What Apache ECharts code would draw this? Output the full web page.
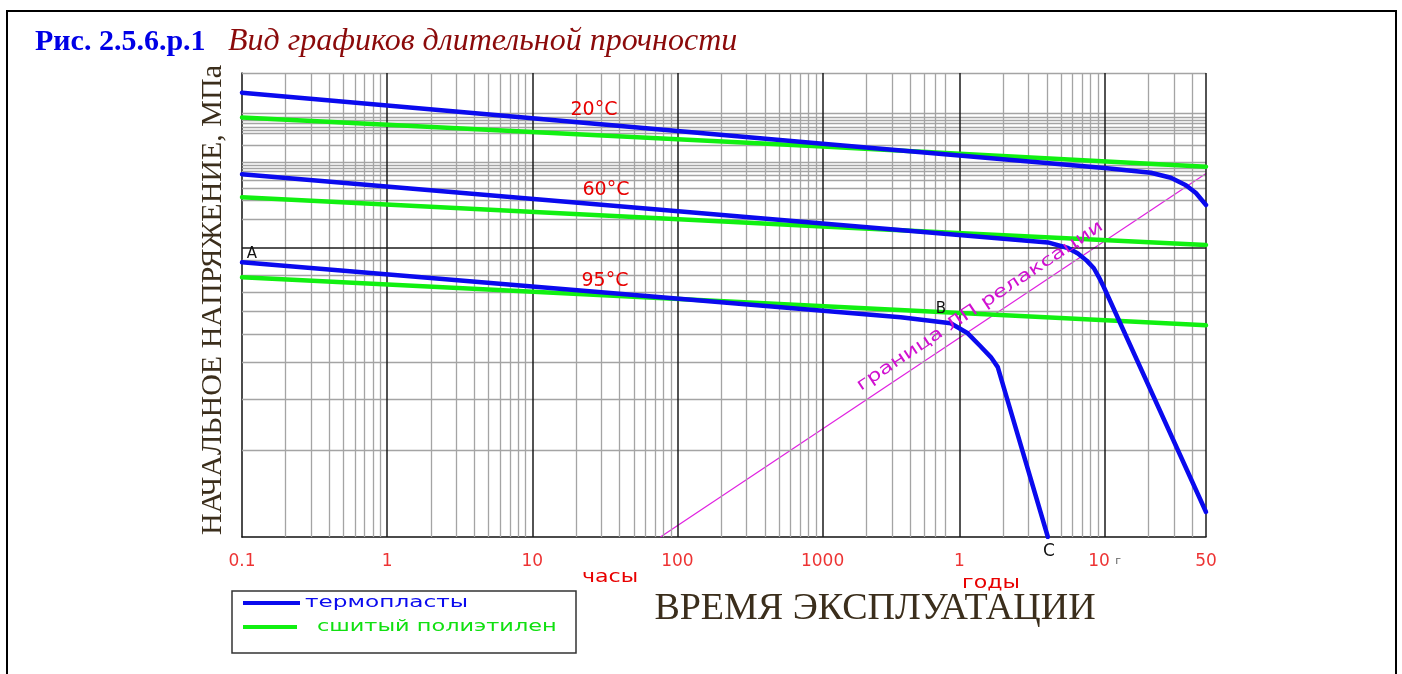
<!DOCTYPE html>
<html>
<head>
<meta charset="utf-8">
<title>Вид графиков длительной прочности</title>
<script src="https://cdn.jsdelivr.net/npm/echarts@6/dist/echarts.min.js"></script>
<style>
  html, body, #main { margin: 0; width: 100%; height: 100%; background: #fff; }
</style>
</head>
<body>
<div id="main"></div>
<script>
// time in hours, stress in MPa
var HOURS_PER_YEAR = 8760;

var blue20  = [[0.1, 34.2], [1000, 22.8], [87600, 18.8], [182800, 18.1], [251000, 17.4], [318600, 16.4], [373500, 15.4], [438000, 14.0]];
var green20 = [[0.1, 28.1], [1000, 22.3], [438000, 19.0]];
var blue60  = [[0.1, 17.9], [1000, 12.1], [35650, 10.4], [49000, 9.95], [57400, 9.53], [66000, 9.0], [73950, 8.47], [80000, 7.9], [86700, 7.28], [438000, 1.22]];
var green60 = [[0.1, 14.9], [1000, 11.8], [438000, 10.2]];
var blue95  = [[0.1, 8.88], [3452, 5.74], [7636, 5.47], [10000, 5.05], [12000, 4.6], [14420, 4.18], [16100, 3.86], [35650, 1.0]];
var green95 = [[0.1, 7.88], [438000, 5.38]];
var relaxLine = [[76.3, 1], [438000, 18.0]];

// x tick labels: hours, then years
var tickValues = [0.1, 1, 10, 100, 1000, 1 * HOURS_PER_YEAR, 10 * HOURS_PER_YEAR, 50 * HOURS_PER_YEAR];
var tickTexts  = ['0.1', '1', '10', '100', '1000', '1', '10 {g|г}', '50'];

// grid lines
var minorFactors = [2, 3, 4, 5, 6, 7, 8, 9];
var xMajor = [1, 10, 100, 1000, HOURS_PER_YEAR, 10 * HOURS_PER_YEAR, 50 * HOURS_PER_YEAR];
var xMinor = [];
[0.1, 1, 10, 100].forEach(function (d) {
  minorFactors.forEach(function (k) { xMinor.push(k * d); });
});
[2000, 3000, 4000, 5000, 6000, 7000].forEach(function (v) { xMinor.push(v); });
minorFactors.forEach(function (k) { xMinor.push(k * HOURS_PER_YEAR); });
[20, 30, 40].forEach(function (k) { xMinor.push(k * HOURS_PER_YEAR); });

var yMajor = [10];
var yMinor = [2, 3, 4, 5, 6, 7, 8, 9, 12.5, 14.5, 16, 17, 17.7, 18.3, 18.8, 19.2, 19.6,
              22.5, 24.7, 25.3, 26, 26.8, 27.4, 28.1, 29, 40];

var chart = echarts.init(document.getElementById('main'));

function gridSeries(values, axis, color, width) {
  return {
    type: 'line',
    data: [],
    silent: true,
    z: 1,
    markLine: {
      silent: true,
      symbol: 'none',
      animation: false,
      label: { show: false },
      emphasis: { disabled: true },
      lineStyle: { color: color, width: width, type: 'solid' },
      data: values.map(function (v) {
        var o = {};
        o[axis] = v;
        return o;
      })
    }
  };
}

function curve(name, data, color) {
  return {
    name: name,
    type: 'line',
    data: data,
    showSymbol: false,
    z: 5,
    lineStyle: { color: color, width: 4.5, join: 'round', cap: 'round' },
    itemStyle: { color: color }
  };
}

var red = '#e80000';
var cad = '"DejaVu Sans"';

function txt(text, x, y, size, color, extra) {
  var el = {
    type: 'text', x: x, y: y, silent: true, z: 10,
    style: {
      text: text, font: size + 'px ' + cad, fill: color,
      align: 'center', verticalAlign: 'middle',
      textAlign: 'center', textVerticalAlign: 'middle'
    }
  };
  if (extra) Object.keys(extra).forEach(function (k) { el[k] = extra[k]; });
  return el;
}

chart.setOption({
  animation: false,
  backgroundColor: '#fff',
  grid: { left: 242, top: 73, right: 196, bottom: 137 },
  xAxis: {
    type: 'log', logBase: 10, min: 0.1, max: 438000,
    axisLine: { show: true, lineStyle: { color: '#111', width: 1.5 } },
    axisTick: { show: false }, axisLabel: { show: false }, splitLine: { show: false }
  },
  yAxis: {
    type: 'log', logBase: 10, min: 1, max: 40,
    axisLine: { show: true, lineStyle: { color: '#111', width: 1.5 } },
    axisTick: { show: false }, axisLabel: { show: false }, splitLine: { show: false }
  },
  series: [
    gridSeries(xMinor, 'xAxis', '#a4a4a4', 1.3),
    gridSeries(yMinor, 'yAxis', '#a4a4a4', 1.3),
    gridSeries(xMajor, 'xAxis', '#1a1a1a', 1.5),
    gridSeries(yMajor, 'yAxis', '#1a1a1a', 1.5),
    {
      type: 'line',
      data: relaxLine,
      showSymbol: false,
      z: 4,
      lineStyle: { color: '#e020e0', width: 1.2 }
    },
    curve('сшитый полиэтилен', green20, '#11f011'),
    curve('сшитый полиэтилен', green60, '#11f011'),
    curve('сшитый полиэтилен', green95, '#11f011'),
    curve('термопласты', blue20, '#0a0aee'),
    curve('термопласты', blue60, '#0a0aee'),
    curve('термопласты', blue95, '#0a0aee'),
    {
      type: 'scatter',
      data: tickValues.map(function (v) { return [v, 1]; }),
      symbolSize: 0,
      silent: true,
      clip: false,
      label: {
        show: true,
        position: 'bottom',
        distance: 16,
        color: red,
        fontSize: 17,
        fontFamily: 'DejaVu Sans',
        formatter: function (p) { return tickTexts[p.dataIndex]; },
        rich: { g: { fontSize: 11, color: '#333', fontFamily: 'DejaVu Sans' } }
      }
    }
  ],
  graphic: [
    { type: 'rect', silent: true, shape: { x: 7, y: 11, width: 1389, height: 700 },
      style: { fill: 'none', stroke: '#000', lineWidth: 2 } },
    { type: 'text', x: 35, y: 42, silent: true,
      style: { text: 'Рис. 2.5.6.р.1', font: 'bold 30px "Liberation Serif"', fill: '#0000e6',
               verticalAlign: 'middle', textVerticalAlign: 'middle' } },
    { type: 'text', x: 228, y: 42, silent: true,
      style: { text: 'Вид графиков длительной прочности', font: 'italic 32px "Liberation Serif"', fill: '#8b0a0a',
               verticalAlign: 'middle', textVerticalAlign: 'middle' } },
    { type: 'text', x: 213, y: 300, rotation: Math.PI / 2, silent: true,
      style: { text: 'НАЧАЛЬНОЕ НАПРЯЖЕНИЕ, МПа', font: '30px "Liberation Serif"', fill: '#3b2e1c',
               align: 'center', verticalAlign: 'middle', textAlign: 'center', textVerticalAlign: 'middle' } },
    { type: 'text', x: 875, y: 609, silent: true,
      style: { text: 'ВРЕМЯ ЭКСПЛУАТАЦИИ', font: '38px "Liberation Serif"', fill: '#3b2e1c',
               align: 'center', verticalAlign: 'middle', textAlign: 'center', textVerticalAlign: 'middle' } },
    txt('20°C', 594, 110, 19, red),
    txt('60°C', 606, 190, 19, red),
    txt('95°C', 605, 281, 19, red),
    txt('A', 252, 254, 15, '#111'),
    txt('B', 941, 309, 15, '#111'),
    txt('C', 1049, 552, 17, '#111'),
    txt('часы', 610, 578, 17, red, { scaleX: 1.3 }),
    txt('годы', 991, 584, 17, red, { scaleX: 1.3 }),
    txt('граница ЛП релаксации', 980, 306, 17, '#d010d0', { rotation: 33.7 * Math.PI / 180, scaleX: 1.35 }),
    // legend
    { type: 'rect', silent: true, shape: { x: 232, y: 591, width: 344, height: 62 },
      style: { fill: 'none', stroke: '#333', lineWidth: 1.5 } },
    { type: 'line', silent: true, shape: { x1: 243, y1: 603, x2: 300, y2: 603 },
      style: { stroke: '#0a0aee', lineWidth: 4 } },
    { type: 'line', silent: true, shape: { x1: 243, y1: 627, x2: 297, y2: 627 },
      style: { stroke: '#11f011', lineWidth: 4 } },
    { type: 'text', x: 305, y: 603, silent: true, scaleX: 1.45,
      style: { text: 'термопласты', font: '16px ' + cad, fill: '#0a0aee',
               verticalAlign: 'middle', textVerticalAlign: 'middle' } },
    { type: 'text', x: 317, y: 627, silent: true, scaleX: 1.4,
      style: { text: 'сшитый полиэтилен', font: '16px ' + cad, fill: '#11e011',
               verticalAlign: 'middle', textVerticalAlign: 'middle' } }
  ]
});

window.addEventListener('resize', function () { chart.resize(); });
</script>
</body>
</html>
